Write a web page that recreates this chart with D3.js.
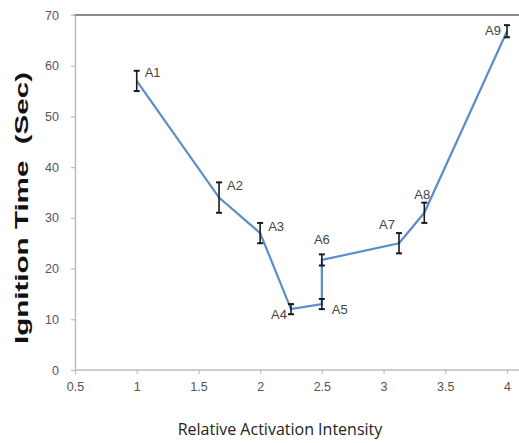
<!DOCTYPE html>
<html><head><meta charset="utf-8">
<script src="https://cdn.jsdelivr.net/npm/d3@7"></script>
<style>body{margin:0;background:#fff}svg{display:block}</style>
</head><body>
<svg id="c" width="519" height="443"></svg>
<script>
const labels = ["A1","A2","A3","A4","A5","A6","A7","A8","A9"];
const xValues = [1, 1.667, 2, 2.25, 2.5, 2.5, 3.125, 3.33, 4];
const yValues = [57, 34, 27, 12, 13, 21.7, 25, 31, 66.8];
const errValues = [2, 3, 2, 1, 1, 1.1, 2, 2, 1.2];
const xTicks = [0.5, 1, 1.5, 2, 2.5, 3, 3.5, 4];
const xTickLabels = ["0.5","1","1.5","2","2.5","3","3.5","4"];
const yTicks = [0, 10, 20, 30, 40, 50, 60, 70];
// label offsets (dx, dy, anchor)
const labelPos = [[8,-4,"start"],[8,-8,"start"],[8,-2,"start"],[-4,10,"end"],[10,10,"start"],[0,-16,"middle"],[-4,-14,"end"],[-2,-14,"middle"],[-6,4,"end"]];

const svg = d3.select("#c");
const x = d3.scaleLinear().domain([0.5, 4]).range([75, 507]);
const y = d3.scaleLinear().domain([0, 70]).range([370, 15]);

// top border
svg.append("line").attr("x1", 74).attr("x2", 519).attr("y1", y(70)).attr("y2", y(70))
  .attr("stroke", "#8a8a8a").attr("stroke-width", 2.2);

const xAxis = svg.append("g").attr("transform", `translate(0,${y(0)})`)
  .call(d3.axisBottom(x).tickValues(xTicks).tickFormat((d,i)=>xTickLabels[i]).tickSize(4).tickPadding(8).tickSizeOuter(0));
xAxis.select(".domain").attr("d", `M${x(0.5)},0H519`);
const yAxis = svg.append("g").attr("transform", `translate(${x(0.5)},0)`)
  .call(d3.axisLeft(y).tickValues(yTicks).tickSize(4).tickPadding(12).tickSizeOuter(0));
[xAxis, yAxis].forEach(a => {
  a.select(".domain").attr("stroke", "#bdbdbd").attr("stroke-width", 1.5);
  a.selectAll(".tick line").attr("stroke", "#bdbdbd").attr("stroke-width", 1.2);
  a.selectAll(".tick text").attr("fill", "#555").attr("font-family", "Liberation Sans Narrow, Liberation Sans, sans-serif").attr("font-size", 12.5);
});

const pts = xValues.map((v,i)=>({x:v, y:yValues[i], e:errValues[i], l:labels[i], p:labelPos[i]}));

svg.append("path").datum(pts)
  .attr("d", d3.line().x(d=>x(d.x)).y(d=>y(d.y)))
  .attr("fill", "none").attr("stroke", "#5b8dc8").attr("stroke-width", 2.2);

const eb = svg.append("g").attr("stroke", "#1a1a1a").attr("stroke-width", 1.6);
pts.forEach(d => {
  eb.append("line").attr("x1", x(d.x)).attr("x2", x(d.x)).attr("y1", y(d.y-d.e)).attr("y2", y(d.y+d.e));
  [d.y-d.e, d.y+d.e].forEach(v => eb.append("line").attr("x1", x(d.x)-3).attr("x2", x(d.x)+3).attr("y1", y(v)).attr("y2", y(v)).attr("stroke-width", 2));
});

svg.append("g").selectAll("text").data(pts).join("text")
  .attr("x", d => x(d.x) + d.p[0]).attr("y", d => y(d.y) + d.p[1])
  .attr("text-anchor", d => d.p[2])
  .attr("font-family", "Liberation Sans Narrow, Liberation Sans, sans-serif").attr("font-size", 13)
  .attr("fill", "#444").text(d => d.l);

svg.append("text").attr("transform", "translate(28,208) rotate(-90)")
  .attr("text-anchor", "middle").attr("font-family", "Liberation Sans, Arial, sans-serif")
  .style("white-space", "pre")
  .attr("textLength", 272).attr("lengthAdjust", "spacingAndGlyphs")
  .attr("font-weight", "bold").attr("font-size", 19).attr("fill", "#111").text("Ignition Time  (Sec)");

svg.append("text").attr("x", 280).attr("y", 435).attr("text-anchor", "middle")
  .attr("font-family", "Open Sans, sans-serif").attr("font-size", 16).attr("fill", "#222")
  .text("Relative Activation Intensity");
</script>
</body></html>
